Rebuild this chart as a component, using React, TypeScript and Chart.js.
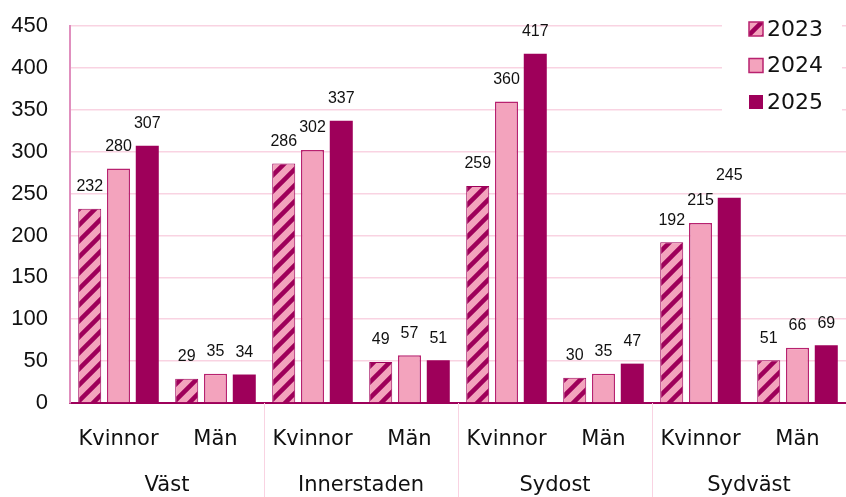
import React, { useEffect, useRef } from "react";
import { Chart, registerables } from "chart.js";

Chart.register(...registerables);

const categories = ["Kvinnor", "Män", "Kvinnor", "Män", "Kvinnor", "Män", "Kvinnor", "Män"];
const groups = ["Väst", "Innerstaden", "Sydost", "Sydväst"];
const seriesLabels = ["2023", "2024", "2025"];
const values2023 = [232, 29, 286, 49, 259, 30, 192, 51];
const values2024 = [280, 35, 302, 57, 360, 35, 215, 66];
const values2025 = [307, 34, 337, 51, 417, 47, 245, 69];
const yTicks = [0, 50, 100, 150, 200, 250, 300, 350, 400, 450];

const DARK = "#9E005A";
const PINK = "#F3A3BD";
const BORDER = "#B8226F";
const GRID = "#F9D3E2";
const LABEL_FONT = "'DejaVu Sans', sans-serif";
const NUM_FONT = "'Liberation Sans', Arial, sans-serif";

function makeHatch(ctx: CanvasRenderingContext2D) {
  const s = 16;
  const c = document.createElement("canvas");
  c.width = s;
  c.height = s;
  const g = c.getContext("2d")!;
  g.fillStyle = PINK;
  g.fillRect(0, 0, s, s);
  g.strokeStyle = DARK;
  g.lineWidth = 4.5;
  g.beginPath();
  g.moveTo(-3, s + 3);
  g.lineTo(s + 3, -3);
  g.moveTo(-3, 3);
  g.lineTo(3, -3);
  g.moveTo(s - 3, s + 3);
  g.lineTo(s + 3, s - 3);
  g.stroke();
  return ctx.createPattern(c, "repeat")!;
}

export default function App() {
  const ref = useRef<HTMLCanvasElement>(null);
  useEffect(() => {
    document.body.style.margin = "0";
    const canvas = ref.current!;
    const ctx = canvas.getContext("2d")!;
    const hatch = makeHatch(ctx);
    const fills: any[] = [hatch, PINK, DARK];

    const labelsPlugin = {
      id: "valueLabels",
      afterDatasetsDraw(chart: any) {
        const c = chart.ctx;
        c.save();
        c.font = `16px ${NUM_FONT}`;
        c.fillStyle = "#111";
        c.textAlign = "center";
        c.textBaseline = "bottom";
        chart.data.datasets.forEach((ds: any, di: number) => {
          const meta = chart.getDatasetMeta(di);
          meta.data.forEach((bar: any, i: number) => {
            c.fillText(String(ds.data[i]), bar.x, bar.y - 14);
          });
        });
        c.restore();
      },
    };

    const groupPlugin = {
      id: "groups",
      afterDraw(chart: any) {
        const c = chart.ctx;
        const x = chart.scales.x;
        const area = chart.chartArea;
        c.save();
        c.strokeStyle = GRID;
        c.lineWidth = 1;
        for (let g = 1; g < groups.length; g++) {
          const px = Math.round((x.getPixelForValue(g * 2 - 1) + x.getPixelForValue(g * 2)) / 2) + 0.5;
          c.beginPath();
          c.moveTo(px, area.bottom);
          c.lineTo(px, chart.height);
          c.stroke();
        }
        c.font = `21px ${LABEL_FONT}`;
        c.fillStyle = "#111";
        c.textAlign = "center";
        c.textBaseline = "middle";
        groups.forEach((name, g) => {
          const px = (x.getPixelForValue(g * 2) + x.getPixelForValue(g * 2 + 1)) / 2;
          c.fillText(name, px, 486);
        });

        // legend
        c.fillStyle = "#ffffff";
        c.fillRect(722, 8, 120, 112);
        c.font = `22px ${LABEL_FONT}`;
        c.textAlign = "left";
        seriesLabels.forEach((lab, i) => {
          const cy = 29 + i * 36.5;
          c.fillStyle = fills[i];
          c.fillRect(749, cy - 7, 14, 14);
          if (i < 2) {
            c.strokeStyle = BORDER;
            c.lineWidth = 1.5;
            c.strokeRect(749, cy - 7, 14, 14);
          }
          c.fillStyle = "#111";
          c.fillText(lab, 767, cy + 1);
        });
        c.restore();
      },
    };

    const chart = new Chart(ctx, {
      type: "bar",
      data: {
        labels: categories,
        datasets: [
          { label: seriesLabels[0], data: values2023, backgroundColor: hatch, borderColor: DARK, borderWidth: 1 },
          { label: seriesLabels[1], data: values2024, backgroundColor: PINK, borderColor: BORDER, borderWidth: 1.5 },
          { label: seriesLabels[2], data: values2025, backgroundColor: DARK, borderColor: DARK, borderWidth: 0 },
        ],
      },
      options: {
        animation: false,
        responsive: false,
        devicePixelRatio: 1,
        layout: { padding: { top: 26, right: 0, left: 0, bottom: 0 } },
        datasets: { bar: { categoryPercentage: 0.89, barPercentage: 0.8 } },
        plugins: { legend: { display: false }, tooltip: { enabled: false } },
        scales: {
          x: {
            grid: { display: false, drawTicks: false },
            border: { display: true, color: DARK, width: 2 },
            ticks: { font: { family: LABEL_FONT, size: 21 }, color: "#111", padding: 24, maxRotation: 0, autoSkip: false },
            afterFit: (s: any) => { s.height = 94; },
          },
          y: {
            min: 0,
            max: 450,
            afterBuildTicks: (s: any) => { s.ticks = yTicks.map((v) => ({ value: v })); },
            grid: { color: GRID, drawTicks: true, tickLength: 20, tickColor: "rgba(0,0,0,0)", lineWidth: 1.5 },
            border: { display: true, color: "#E08FBE", width: 2 },
            ticks: { font: { family: NUM_FONT, size: 22 }, color: "#111", padding: 2 },
            afterFit: (s: any) => { s.width = 70; },
          },
        },
      },
      plugins: [labelsPlugin, groupPlugin],
    } as any);
    return () => chart.destroy();
  }, []);
  return <canvas ref={ref} width={846} height={497} style={{ display: "block" }} />;
}
